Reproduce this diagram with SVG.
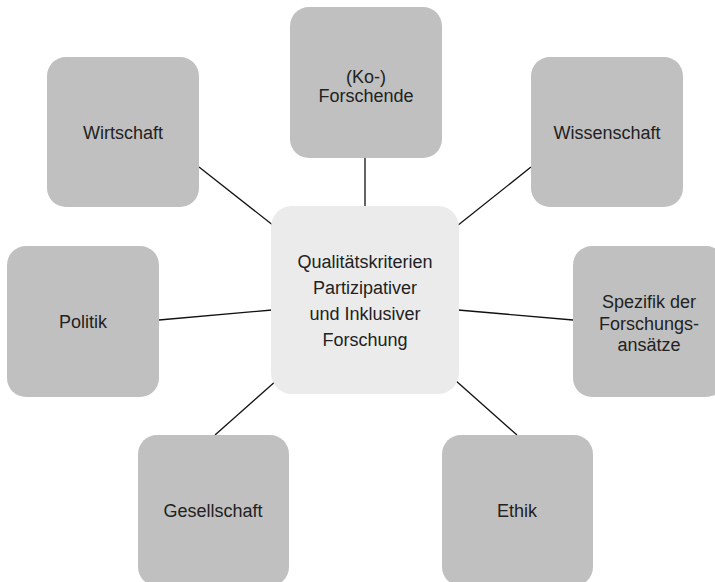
<svg xmlns="http://www.w3.org/2000/svg" width="715" height="582" viewBox="0 0 715 582">
  <style>
    .node { fill: #c0c0c0; }
    .hub { fill: #ebebeb; }
    .link { stroke: #111111; stroke-width: 1.3; fill: none; }
    text { font-family: "Liberation Sans", Arial, Helvetica, sans-serif; font-size: 18px; fill: #222222; text-anchor: middle; }
  </style>
  <rect width="715" height="582" fill="#ffffff"/>

  <!-- connectors from the hub to each topic -->
  <g id="connectors">
    <line class="link" x1="365" y1="158" x2="365" y2="207"/>
    <line class="link" x1="199" y1="167" x2="274" y2="226"/>
    <line class="link" x1="457" y1="226" x2="531" y2="167"/>
    <line class="link" x1="159" y1="320" x2="272" y2="310"/>
    <line class="link" x1="458" y1="310" x2="573" y2="320"/>
    <line class="link" x1="277" y1="380" x2="215" y2="435"/>
    <line class="link" x1="455" y1="380" x2="517" y2="435"/>
  </g>

  <g id="hub">
    <rect class="hub" x="271" y="206" width="188" height="188" rx="21"/>
    <text x="365" y="268">Qualitätskriterien</text>
    <text x="365" y="294">Partizipativer</text>
    <text x="365" y="320">und Inklusiver</text>
    <text x="365" y="346">Forschung</text>
  </g>

  <g id="forschende">
    <rect class="node" x="290" y="7" width="152" height="151" rx="19"/>
    <text x="366" y="83">(Ko-)</text>
    <text x="366" y="102">Forschende</text>
  </g>

  <g id="wirtschaft">
    <rect class="node" x="47" y="57" width="152" height="150" rx="19"/>
    <text x="123" y="139">Wirtschaft</text>
  </g>

  <g id="wissenschaft">
    <rect class="node" x="531" y="57" width="152" height="150" rx="19"/>
    <text x="607" y="139">Wissenschaft</text>
  </g>

  <g id="politik">
    <rect class="node" x="7" y="246" width="152" height="151" rx="19"/>
    <text x="83" y="328">Politik</text>
  </g>

  <g id="spezifik">
    <rect class="node" x="573" y="246" width="152" height="151" rx="19"/>
    <text x="649" y="308">Spezifik der</text>
    <text x="649" y="330">Forschungs-</text>
    <text x="649" y="351">ansätze</text>
  </g>

  <g id="gesellschaft">
    <rect class="node" x="138" y="435" width="151" height="151" rx="19"/>
    <text x="213" y="517">Gesellschaft</text>
  </g>

  <g id="ethik">
    <rect class="node" x="442" y="435" width="151" height="151" rx="19"/>
    <text x="517" y="517">Ethik</text>
  </g>
</svg>
